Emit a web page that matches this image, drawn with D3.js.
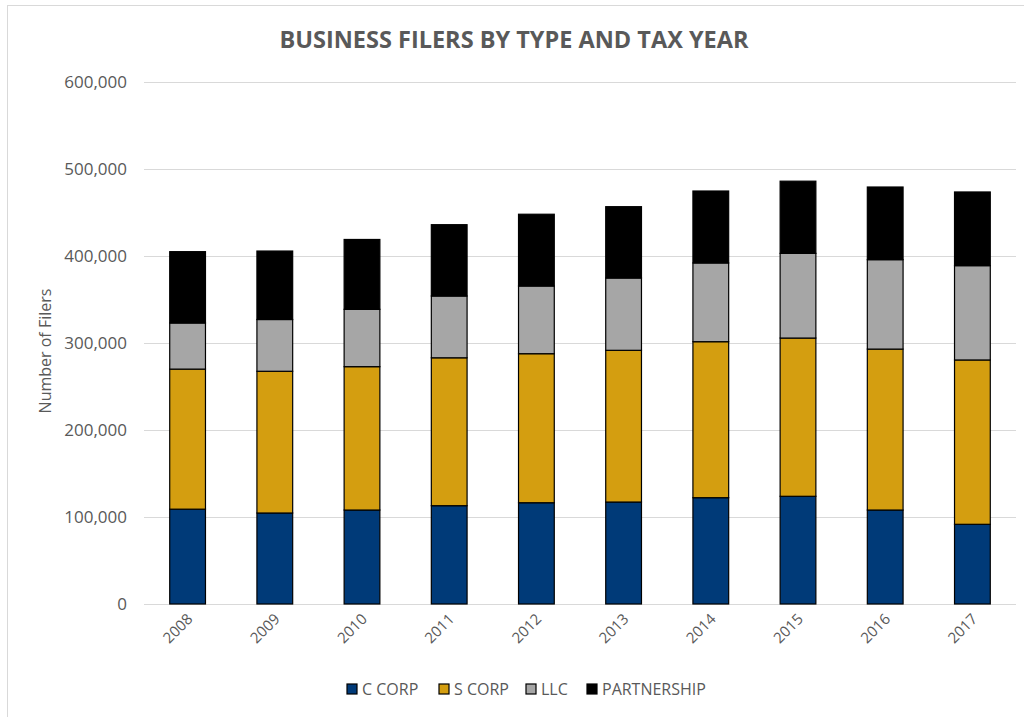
<!DOCTYPE html>
<html>
<head>
<meta charset="utf-8">
<script src="https://cdn.jsdelivr.net/npm/d3@7"></script>
<style>
  html, body { margin: 0; padding: 0; background: #fff; }
  svg { display: block; font-family: "Open Sans", "Liberation Sans", sans-serif; }
</style>
</head>
<body>
<svg id="chart" width="1024" height="717"></svg>
<script>
// Filers per tax year, by business type
const years = ["2008", "2009", "2010", "2011", "2012", "2013", "2014", "2015", "2016", "2017"];
const cCorp = [109000, 104600, 108000, 113000, 116400, 117200, 122200, 123800, 108000, 91600];
const sCorp = [161000, 162900, 164800, 170000, 171300, 174400, 179300, 181900, 185000, 188900];
const llc = [53000, 59500, 65900, 71000, 77800, 83100, 90500, 97300, 102800, 108400];
const partnership = [82000, 78700, 80300, 82000, 82500, 82000, 82700, 83000, 83500, 84700];
const seriesNames = ["C CORP", "S CORP", "LLC", "PARTNERSHIP"];
const seriesColors = ["#003a78", "#d49e10", "#a6a6a6", "#000000"];
const yTicks = [0, 100000, 200000, 300000, 400000, 500000, 600000];

const rows = years.map((y, i) => ({
  year: y,
  "C CORP": cCorp[i],
  "S CORP": sCorp[i],
  "LLC": llc[i],
  "PARTNERSHIP": partnership[i]
}));

const svg = d3.select("#chart");
const W = 1024, H = 717;
const plot = { left: 144, right: 1016, top: 82, bottom: 604 };

// outer chart frame
svg.append("rect")
  .attr("x", 7.5).attr("y", 5.5)
  .attr("width", W + 20).attr("height", H + 20)
  .attr("fill", "none").attr("stroke", "#d9d9d9").attr("stroke-width", 1);

const x = d3.scaleBand()
  .domain(years)
  .range([plot.left, plot.right])
  .paddingInner(0.59)
  .paddingOuter(0.295);

const y = d3.scaleLinear()
  .domain([0, 600000])
  .range([plot.bottom, plot.top]);

// gridlines
svg.append("g")
  .selectAll("line")
  .data(yTicks)
  .join("line")
  .attr("x1", plot.left).attr("x2", plot.right)
  .attr("y1", d => Math.round(y(d)) + 0.5).attr("y2", d => Math.round(y(d)) + 0.5)
  .attr("stroke", "#d9d9d9").attr("stroke-width", 1);

// y axis labels
const fmt = d3.format(",");
const yAxis = d3.axisLeft(y).tickValues(yTicks).tickFormat(fmt).tickSize(0).tickPadding(0);
const yg = svg.append("g").attr("transform", `translate(${plot.left - 17},0)`).call(yAxis);
yg.select(".domain").remove();
yg.selectAll("text")
  .attr("fill", "#595959")
  .style("font-size", "17px")
  .style("font-family", "'Open Sans', sans-serif");

// stacked bars
const stack = d3.stack().keys(seriesNames);
const stacked = stack(rows);
const color = d3.scaleOrdinal().domain(seriesNames).range(seriesColors);

svg.append("g")
  .selectAll("g")
  .data(stacked)
  .join("g")
  .attr("fill", d => color(d.key))
  .selectAll("rect")
  .data(d => d)
  .join("rect")
  .attr("x", d => x(d.data.year))
  .attr("width", x.bandwidth())
  .attr("y", d => y(d[1]))
  .attr("height", d => y(d[0]) - y(d[1]))
  .attr("stroke", "#000")
  .attr("stroke-width", 1.2);

// x axis labels (rotated)
const xAxis = d3.axisBottom(x).tickSize(0).tickPadding(0);
const xg = svg.append("g").attr("transform", `translate(0,${plot.bottom})`).call(xAxis);
xg.select(".domain").remove();
xg.selectAll("text")
  .attr("fill", "#595959")
  .style("font-size", "15px")
  .style("font-family", "'Open Sans', sans-serif")
  .attr("text-anchor", "end")
  .attr("dy", null)
  .attr("y", 0)
  .attr("transform", "translate(6,16) rotate(-45)");

// axis title
svg.append("text")
  .attr("transform", `translate(51,${(plot.top + plot.bottom) / 2 + 8}) rotate(-90)`)
  .attr("text-anchor", "middle")
  .attr("fill", "#595959")
  .style("font-size", "16px")
  .text("Number of Filers");

// chart title
svg.append("text")
  .attr("x", 514).attr("y", 48)
  .attr("text-anchor", "middle")
  .attr("fill", "#595959")
  .style("font-size", "23.5px")
  .style("font-weight", "bold")
  .text("BUSINESS FILERS BY TYPE AND TAX YEAR");

// legend
const legendItems = [
  { name: "C CORP", x: 347 },
  { name: "S CORP", x: 439 },
  { name: "LLC", x: 526 },
  { name: "PARTNERSHIP", x: 587 }
];
const lg = svg.append("g");
const li = lg.selectAll("g").data(legendItems).join("g")
  .attr("transform", d => `translate(${d.x},684)`);
li.append("rect")
  .attr("width", 10).attr("height", 10)
  .attr("fill", d => color(d.name))
  .attr("stroke", "#000").attr("stroke-width", 1.2);
li.append("text")
  .attr("x", 15).attr("y", 11)
  .attr("fill", "#595959")
  .style("font-size", "16px")
  .text(d => d.name);
</script>
</body>
</html>
